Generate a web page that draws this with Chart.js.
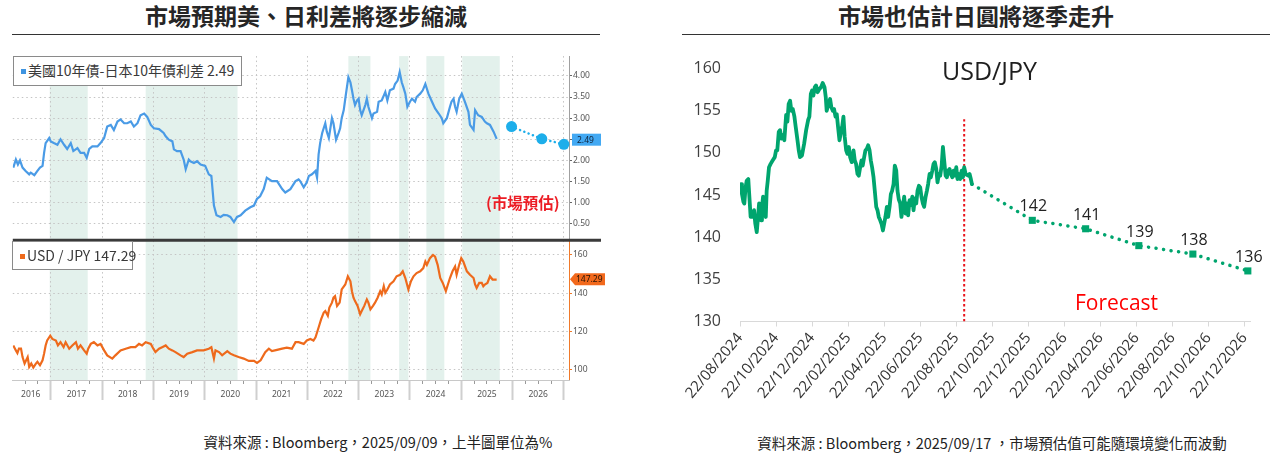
<!DOCTYPE html>
<html><head><meta charset="utf-8">
<script src="https://cdn.jsdelivr.net/npm/chart.js@4.4.1/dist/chart.umd.min.js"></script>
<style>
html,body{margin:0;padding:0;background:#fff;}
body{width:1276px;height:454px;position:relative;overflow:hidden;font-family:"Noto Sans CJK TC","Noto Sans",sans-serif;color:#222;}
.t{position:absolute;white-space:nowrap;}
.title{font-size:23px;font-weight:700;line-height:30px;text-align:center;color:#262626;}
.rule{position:absolute;height:0;border-top:1.5px solid #333;}
.foot{font-size:14.5px;line-height:20px;text-align:center;color:#222;}
.legend{position:absolute;background:#fff;border:1px solid #8a8a8a;box-sizing:border-box;font-size:14px;color:#3a3a3a;line-height:26px;padding-left:7px;white-space:nowrap;}
.legend i{display:inline-block;width:5px;height:5px;margin-right:2px;vertical-align:middle;position:relative;top:-1px;}
.box{position:absolute;}
</style>
</head><body>

<div class="t title" style="left:12px;width:588px;top:0px;">市場預期美、日利差將逐步縮減</div>
<div class="rule" style="left:12px;width:588px;top:34px;"></div>
<div class="t title" style="left:682px;width:588px;top:0px;">市場也估計日圓將逐季走升</div>
<div class="rule" style="left:682px;width:588px;top:34px;"></div>

<div class="box" style="left:12px;top:50px;width:593px;height:355px;"><canvas id="cL"></canvas></div>
<div class="box" style="left:682px;top:48px;width:588px;height:362px;"><canvas id="cR"></canvas></div>

<div class="legend" style="left:13px;top:56px;width:229px;height:30px;"><i style="background:#3f94e0"></i>美國10年債-日本10年債利差 2.49</div>
<div class="legend" style="left:12px;top:241px;width:121px;height:29px;"><i style="background:#ee6a1c"></i>USD / JPY 147.29</div>
<div class="t" style="left:486px;top:191px;font-size:15.5px;font-weight:700;line-height:22px;color:#ec1c24;">(市場預估)</div>

<div class="t" style="left:942px;top:58px;font-family:'Open Sans',sans-serif;font-size:25px;line-height:25px;color:#1e1e1e;font-weight:500;">USD/JPY</div>
<div class="t" style="left:1075px;top:292px;font-family:'Open Sans',sans-serif;font-size:21px;line-height:21px;color:#f00;">Forecast</div>

<div class="t foot" style="left:178px;width:400px;top:432px;">資料來源 : Bloomberg，2025/09/09，上半圖單位為%</div>
<div class="t foot" style="left:742px;width:500px;top:433px;">資料來源 : Bloomberg，2025/09/17 ，市場預估值可能隨環境變化而波動</div>

<script>
// ================= LEFT CHART DATA =================
const yearLabels   = ['2016','2017','2018','2019','2020','2021','2022','2023','2024','2025','2026'];
const yearLabelPos = [2016.61,2017.5,2018.5,2019.5,2020.5,2021.5,2022.5,2023.5,2024.5,2025.5,2026.5];
const yearBounds   = [2017,2018,2019,2020,2021,2022,2023,2024,2025,2026,2027];
const shadedStart  = [2016.98,2018.85,2022.80,2023.79,2024.32,2025.02];
const shadedEnd    = [2017.72,2020.64,2023.23,2023.97,2024.67,2025.75];
const spreadTicks  = [0.5,1.0,1.5,2.0,2.5,3.0,3.5,4.0];
const fxTicks      = [100,110,120,130,140,150,160];

// US 10Y minus JGB 10Y spread (%)
const spreadYears = [
 2016.27,2016.32,2016.36,2016.40,2016.45,2016.51,2016.58,2016.61,2016.68,2016.74,2016.79,2016.84,2016.87,2016.90,2016.97,
 2017.00,2017.06,2017.13,2017.19,2017.26,2017.32,2017.39,2017.44,2017.52,2017.58,2017.65,2017.70,2017.75,2017.81,2017.91,2017.97,
 2018.04,2018.10,2018.17,2018.23,2018.30,2018.36,2018.43,2018.49,2018.56,2018.62,2018.69,2018.75,2018.82,2018.88,2018.95,
 2019.01,2019.11,2019.20,2019.24,2019.30,2019.37,2019.40,2019.46,2019.53,2019.59,2019.63,2019.69,2019.72,2019.79,2019.85,2019.92,
 2020.01,2020.08,2020.13,2020.18,2020.23,2020.31,2020.37,2020.44,2020.50,2020.57,2020.63,2020.70,2020.79,2020.89,2020.96,
 2021.02,2021.08,2021.15,2021.21,2021.31,2021.41,2021.51,2021.57,2021.67,2021.77,2021.83,
 2021.86,2021.93,2021.99,2022.03,2022.09,2022.16,2022.19,2022.22,2022.25,2022.29,2022.35,2022.38,2022.42,2022.48,2022.51,2022.56,2022.61,2022.64,2022.67,2022.71,2022.74,2022.80,2022.84,2022.87,2022.90,2022.93,2022.97,
 2023.00,2023.03,2023.06,2023.13,2023.16,2023.19,2023.26,2023.29,2023.36,2023.39,2023.45,2023.52,2023.56,2023.61,2023.68,2023.71,2023.76,2023.80,2023.84,2023.87,2023.91,2023.95,
 2024.00,2024.04,2024.10,2024.13,2024.20,2024.25,2024.30,2024.36,2024.43,2024.49,2024.56,2024.62,2024.65,2024.72,2024.78,2024.81,2024.85,2024.88,2024.91,2024.96,
 2025.01,2025.07,2025.14,2025.17,2025.24,2025.27,2025.33,2025.40,2025.46,2025.50,2025.56,2025.63,2025.69];
const spreadValues = [
 1.83,2.02,1.90,2.00,1.83,1.75,1.67,1.71,1.65,1.75,1.83,1.87,2.18,2.41,2.53,
 2.45,2.41,2.37,2.50,2.37,2.27,2.41,2.22,2.29,2.18,2.18,2.06,2.27,2.33,2.33,2.41,
 2.53,2.80,2.84,2.72,2.92,2.97,2.88,2.88,2.92,2.80,2.88,3.07,3.11,3.03,2.84,
 2.76,2.74,2.65,2.57,2.49,2.45,2.26,2.22,2.22,2.02,1.79,2.02,1.98,1.94,1.98,1.90,
 1.87,1.67,1.63,0.93,0.70,0.66,0.71,0.70,0.66,0.54,0.66,0.70,0.81,0.89,0.93,
 1.09,1.15,1.32,1.59,1.51,1.51,1.32,1.24,1.32,1.51,1.55,
 1.51,1.36,1.48,1.63,1.67,1.75,1.59,2.14,2.41,2.65,2.88,2.68,2.53,3.00,2.88,2.49,2.65,2.76,3.00,3.19,3.46,3.97,3.85,3.66,3.46,3.31,3.42,
 3.46,3.19,3.07,3.31,3.46,3.27,3.00,3.11,3.15,3.39,3.42,3.62,3.42,3.66,3.70,3.81,3.89,4.09,3.85,3.74,3.58,3.27,
 3.39,3.46,3.39,3.50,3.58,3.66,3.81,3.58,3.39,3.23,3.11,3.00,2.88,3.00,3.27,3.39,3.46,3.27,3.15,3.46,
 3.58,3.39,3.15,2.84,2.72,3.19,3.07,3.03,2.92,2.88,2.84,2.68,2.51];
const spreadForecastYears  = [2025.98,2026.57,2027.0];
const spreadForecastValues = [2.80,2.51,2.38];
const spreadLatest = '2.49';

// USD/JPY (long history)
const fxYears = [
 2016.27,2016.32,2016.35,2016.38,2016.42,2016.45,2016.49,2016.55,2016.58,2016.62,2016.66,2016.71,2016.74,2016.79,2016.84,2016.87,2016.90,2016.93,2016.99,
 2017.03,2017.10,2017.14,2017.19,2017.25,2017.29,2017.36,2017.42,2017.49,2017.53,2017.58,2017.65,2017.70,2017.73,2017.78,2017.84,2017.91,2017.97,
 2018.04,2018.10,2018.20,2018.26,2018.36,2018.46,2018.56,2018.65,2018.72,2018.78,2018.85,2018.95,
 2019.00,2019.04,2019.11,2019.17,2019.24,2019.30,2019.37,2019.43,2019.53,2019.59,2019.66,2019.76,2019.85,2019.98,
 2020.08,2020.13,2020.18,2020.21,2020.28,2020.34,2020.44,2020.50,2020.57,2020.66,2020.76,2020.86,2020.96,
 2021.02,2021.09,2021.18,2021.25,2021.31,2021.41,2021.51,2021.60,2021.70,2021.77,2021.83,2021.93,2021.99,
 2022.06,2022.12,2022.16,2022.22,2022.27,2022.32,2022.35,2022.40,2022.43,2022.48,2022.51,2022.54,2022.58,2022.63,2022.67,2022.74,2022.79,2022.84,2022.87,2022.90,2022.93,2022.98,
 2023.03,2023.06,2023.11,2023.16,2023.19,2023.23,2023.28,2023.32,2023.37,2023.42,2023.45,2023.49,2023.52,2023.56,2023.61,2023.68,2023.74,2023.81,2023.86,2023.91,2023.97,
 2024.02,2024.07,2024.13,2024.20,2024.26,2024.30,2024.33,2024.39,2024.45,2024.49,2024.54,2024.59,2024.64,2024.70,2024.74,2024.78,2024.83,2024.88,2024.91,2024.96,
 2025.00,2025.04,2025.11,2025.17,2025.24,2025.27,2025.30,2025.35,2025.40,2025.43,2025.46,2025.51,2025.56,2025.61,2025.69];
const fxValues = [
 112.6,110.0,108.6,110.9,110.9,106.5,103.1,106.5,101.4,103.1,101.0,103.1,104.0,102.2,104.8,108.3,112.6,115.2,117.7,
 116.0,115.2,112.6,114.3,111.7,114.3,110.9,112.6,114.3,110.9,112.6,110.0,108.3,110.9,113.4,114.3,112.6,113.4,
 110.0,107.4,105.7,107.4,110.0,110.9,111.7,111.7,113.4,112.6,114.3,113.4,
 110.9,109.1,110.9,111.7,112.6,110.9,110.0,109.1,107.4,106.5,108.3,109.1,110.0,110.0,
 110.9,111.7,105.7,110.0,109.1,107.4,109.6,108.3,107.4,106.5,105.7,104.5,104.5,
 103.4,104.8,109.1,110.9,109.6,110.3,110.9,111.4,110.9,114.3,114.3,113.4,115.2,
 116.0,115.2,116.9,122.0,126.4,129.8,130.6,128.1,132.4,135.0,137.6,138.4,133.3,135.0,141.9,144.5,148.8,146.2,141.0,137.6,135.8,133.3,
 128.9,130.6,133.3,136.7,135.0,131.5,133.3,135.0,137.6,141.0,139.3,143.6,140.2,141.9,144.5,146.2,148.8,149.6,151.4,147.9,141.9,
 146.2,148.8,150.5,151.4,153.1,156.5,154.8,158.3,160.0,159.1,154.8,147.9,145.3,141.0,144.5,147.9,151.4,153.9,149.6,154.8,
 158.3,156.5,151.4,149.6,147.9,144.5,142.7,145.3,145.3,143.6,144.5,145.3,148.8,147.1,147.1];
const fxLatest = '147.29';

// ================= RIGHT CHART DATA =================
// x = months after 22/08/2024
const monthTickPos    = [0,2,4,6,8,10,12,14,16,18,20,22,24,26,28];
const monthTickLabels = ['22/08/2024','22/10/2024','22/12/2024','22/02/2025','22/04/2025','22/06/2025','22/08/2025',
 '22/10/2025','22/12/2025','22/02/2026','22/04/2026','22/06/2026','22/08/2026','22/10/2026','22/12/2026'];
const rightYTicks = [130,135,140,145,150,155,160];
const spotMonths = [
 0.06,0.11,0.19,0.24,0.31,0.37,0.46,0.52,0.59,0.70,
 0.78,0.85,0.93,1.00,1.06,1.11,1.17,1.22,1.28,1.35,
 1.43,1.48,1.54,1.61,1.70,1.81,1.93,2.00,2.07,2.15,
 2.22,2.30,2.37,2.46,2.56,2.63,2.70,2.78,2.85,2.93,
 3.02,3.09,3.19,3.26,3.33,3.44,3.56,3.67,3.78,3.85,
 3.93,4.00,4.07,4.15,4.22,4.31,4.41,4.50,4.59,4.69,
 4.76,4.81,4.91,5.00,5.07,5.15,5.22,5.30,5.37,5.44,
 5.52,5.59,5.67,5.74,5.81,5.89,5.96,6.04,6.11,6.20,
 6.30,6.37,6.44,6.52,6.59,6.67,6.74,6.81,6.89,6.96,
 7.04,7.11,7.19,7.26,7.33,7.41,7.48,7.56,7.63,7.70,
 7.78,7.85,7.93,8.00,8.07,8.15,8.22,8.30,8.37,8.44,
 8.52,8.59,8.67,8.74,8.81,8.89,8.96,9.04,9.11,9.19,
 9.26,9.33,9.41,9.48,9.56,9.63,9.70,9.78,9.85,9.93,
 10.00,10.07,10.15,10.22,10.30,10.37,10.44,10.52,10.59,10.67,
 10.74,10.81,10.89,10.96,11.04,11.11,11.19,11.26,11.33,11.41,
 11.48,11.56,11.63,11.70,11.78,11.85,11.93,12.00,12.07,12.15,
 12.22,12.30,12.37,12.44,12.52,12.59,12.67,12.74,12.81,12.87];
const spotValues = [
 146.3,145.1,144.2,144.0,145.9,146.7,146.9,144.8,142.4,142.4,
 143.2,141.6,140.6,142.4,144.0,143.2,142.0,143.6,144.8,143.6,
 142.4,145.5,146.7,148.3,148.7,149.1,149.5,150.3,150.3,152.5,
 152.7,151.7,152.1,151.5,154.5,153.7,155.8,156.2,155.0,155.2,
 154.3,153.1,151.5,150.3,149.5,149.7,151.1,152.7,153.9,154.3,
 157.0,157.4,156.8,157.8,158.0,157.2,157.6,157.8,158.3,157.8,
 156.6,155.0,155.8,156.4,155.4,155.0,155.2,154.3,154.6,153.1,
 151.5,152.3,153.1,154.3,151.9,150.3,149.9,150.7,149.5,148.9,
 150.3,149.1,148.7,147.5,147.3,148.3,149.1,148.5,149.5,150.3,
 150.5,150.9,150.3,149.1,148.3,147.1,145.5,143.6,143.2,142.4,
 142.0,141.6,140.8,141.6,142.4,143.6,142.4,143.6,145.1,145.5,
 146.3,148.5,147.9,145.5,144.5,144.0,142.4,143.6,144.8,142.8,
 144.0,142.6,144.4,143.8,144.8,143.2,144.6,144.0,145.5,146.1,
 145.9,144.8,144.0,143.6,144.8,145.5,146.3,147.5,147.1,147.9,
 148.7,148.9,148.1,146.5,147.5,147.3,148.5,150.7,149.1,147.3,
 147.1,147.9,148.1,147.5,147.1,147.9,147.3,148.3,146.9,147.5,
 146.9,147.9,147.1,148.3,147.5,147.4,147.3,147.5,146.9,146.3];
const forecastMonths = [12.87,16.22,19.18,22.13,25.13,28.18];
const forecastValues = [146.3,142,141,139,138,136];
const forecastLabels = ['','142','141','139','138','136'];
const forecastStartMonth = 12.44;
const forecastLineRange = [130,154];

// ================= helpers =================
const pairs = (xs, ys) => xs.slice(0, Math.min(xs.length, ys.length)).map((x,i)=>({x, y:ys[i]}));
const setTicks = arr => s => { s.ticks = arr.map(v=>({value:v})); };
const X_MIN = 2016.26, X_MAX = 2027.1;
const quarterTicks = [];
for (let y = 2016; y <= 2026; y++) for (const q of [0.25,0.5,0.75]) { const v = y + q; if (v > X_MIN && v < X_MAX) quarterTicks.push(v); }

const leftDeco = {
  id: 'leftDeco',
  beforeDraw(chart) {
    const {ctx, chartArea: a, scales: {x}} = chart;
    ctx.save();
    ctx.fillStyle = '#e3f1ec';
    shadedStart.forEach((s, i) => {
      const x1 = x.getPixelForValue(s), x2 = x.getPixelForValue(shadedEnd[i]);
      ctx.fillRect(x1, a.top, x2 - x1, a.bottom - a.top);
    });
    ctx.restore();
  },
  afterDraw(chart) {
    const {ctx, chartArea: a, scales: {yTop, yBot}} = chart;
    ctx.save();
    const ys = yBot.top - 0.5;
    ctx.strokeStyle = '#3a3a3a'; ctx.lineWidth = 3;
    ctx.beginPath(); ctx.moveTo(a.left, ys); ctx.lineTo(chart.width - 4, ys); ctx.stroke();
    ctx.font = '8.5px "Noto Sans", sans-serif';
    ctx.textBaseline = 'middle';
    let py = yTop.getPixelForValue(parseFloat(spreadLatest));
    ctx.fillStyle = '#43a9f3';
    ctx.fillRect(a.right + 3, py - 6, 29, 12);
    ctx.fillStyle = '#10233a'; ctx.textAlign = 'left';
    ctx.fillText(spreadLatest, a.right + 8, py + 0.5);
    py = yBot.getPixelForValue(parseFloat(fxLatest));
    ctx.fillStyle = '#f2691c';
    ctx.beginPath();
    ctx.moveTo(a.right + 1, py); ctx.lineTo(a.right + 6, py - 6); ctx.lineTo(a.right + 36, py - 6);
    ctx.lineTo(a.right + 36, py + 6); ctx.lineTo(a.right + 6, py + 6); ctx.closePath(); ctx.fill();
    ctx.fillStyle = '#2a1406';
    ctx.fillText(fxLatest, a.right + 7, py + 0.5);
    ctx.restore();
  }
};

const tickFontL = {size: 8.5, family: '"Noto Sans", sans-serif'};

new Chart(document.getElementById('cL'), {
  type: 'line',
  data: { datasets: [
    { data: pairs(spreadYears, spreadValues), xAxisID: 'x', yAxisID: 'yTop', borderColor: '#4a9be6', borderWidth: 2.2, pointRadius: 0, tension: 0 },
    { data: pairs(spreadForecastYears, spreadForecastValues), xAxisID: 'x', yAxisID: 'yTop', borderColor: '#1daeea', backgroundColor: '#1daeea',
      borderWidth: 2.5, borderDash: [0.1, 4.5], borderCapStyle: 'round', pointRadius: 5.5, pointBorderWidth: 0, clip: false },
    { data: pairs(fxYears, fxValues), xAxisID: 'x', yAxisID: 'yBot', borderColor: '#ee6a1c', borderWidth: 2.2, pointRadius: 0, tension: 0 }
  ]},
  options: {
    responsive: true, maintainAspectRatio: false, animation: false, events: [],
    layout: { autoPadding: false, padding: { top: 2, left: 0, right: 0, bottom: 0 } },
    plugins: { legend: { display: false }, tooltip: { enabled: false } },
    scales: {
      x: { type: 'linear', axis: 'x', position: 'bottom', min: X_MIN, max: X_MAX, afterBuildTicks: setTicks(yearBounds),
           ticks: { display: false },
           grid: { color: '#c4c4c4', lineWidth: 1, tickLength: 20, tickWidth: 2, tickColor: '#cfcfcf', tickBorderDash: [] },
           border: { display: true, color: '#c8c8c8', dash: [1.5, 3] },
           afterFit: s => { s.height = 0; } },
      xMinor: { type: 'linear', axis: 'x', position: 'bottom', min: X_MIN, max: X_MAX, afterBuildTicks: setTicks(quarterTicks),
           ticks: { display: false },
           grid: { drawOnChartArea: false, tickLength: 4, tickColor: '#9a9a9a', tickWidth: 1 },
           border: { display: false }, afterFit: s => { s.height = 0; } },
      xLab: { type: 'linear', axis: 'x', position: 'bottom', min: X_MIN, max: X_MAX, afterBuildTicks: setTicks(yearLabelPos),
           ticks: { autoSkip: false, maxRotation: 0, minRotation: 0, padding: 9, color: '#555', font: tickFontL, callback: (v, i) => yearLabels[i] },
           grid: { display: false, drawTicks: false }, border: { display: false },
           afterFit: s => { s.height = 25; } },
      yTop: { type: 'linear', axis: 'y', position: 'right', stack: 'L', stackWeight: 187, min: 0.096, max: 4.47,
           afterBuildTicks: setTicks(spreadTicks),
           ticks: { color: '#555', font: tickFontL, padding: 1, callback: v => v.toFixed(2) },
           grid: { color: '#c4c4c4', tickLength: 3, tickColor: '#666', tickBorderDash: [] },
           border: { color: '#a0a0a0', dash: [1.5, 3] },
           afterFit: s => { s.width = 36; } },
      yBot: { type: 'linear', axis: 'y', position: 'right', stack: 'L', stackWeight: 141, min: 94.5, max: 167.4,
           afterBuildTicks: setTicks(fxTicks),
           ticks: { color: '#555', font: tickFontL, padding: 1, callback: v => String(v) },
           grid: { color: '#c4c4c4', tickLength: 3, tickColor: '#f07a2a', tickBorderDash: [] },
           border: { color: '#f07a2a', dash: [1.5, 3] },
           afterFit: s => { s.width = 36; } }
    }
  },
  plugins: [leftDeco]
});

// ================= RIGHT CHART =================
const pointLabels = {
  id: 'pointLabels',
  afterDatasetsDraw(chart) {
    const meta = chart.getDatasetMeta(1);
    const ctx = chart.ctx;
    ctx.save();
    ctx.font = '16px "Open Sans", sans-serif';
    ctx.fillStyle = '#222'; ctx.textAlign = 'center'; ctx.textBaseline = 'alphabetic';
    meta.data.forEach((p, i) => { if (forecastLabels[i]) ctx.fillText(forecastLabels[i], p.x + 1, p.y - 9); });
    ctx.restore();
  }
};

const green = '#00a56e';
new Chart(document.getElementById('cR'), {
  type: 'line',
  data: { datasets: [
    { data: pairs(spotMonths, spotValues), borderColor: green, borderWidth: 3.8, pointRadius: 0, tension: 0, borderJoinStyle: 'round', borderCapStyle: 'round' },
    { data: pairs(forecastMonths, forecastValues), borderColor: green, backgroundColor: green, borderWidth: 3.5,
      borderDash: [0.1, 7.5], borderCapStyle: 'round', pointStyle: 'rect',
      pointRadius: forecastLabels.map(l => l ? 5 : 0), pointBorderWidth: 0, clip: false },
    { data: forecastLineRange.map(v => ({x: forecastStartMonth, y: v})), borderColor: '#e8141b', borderWidth: 2, borderDash: [2.5, 2.5], pointRadius: 0 }
  ]},
  options: {
    responsive: true, maintainAspectRatio: false, animation: false, events: [],
    layout: { autoPadding: false, padding: { top: 20, left: 0, right: 20, bottom: 0 } },
    plugins: { legend: { display: false }, tooltip: { enabled: false } },
    scales: {
      x: { type: 'linear', min: 0, max: 28.3, afterBuildTicks: setTicks(monthTickPos),
           ticks: { autoSkip: false, minRotation: 50, maxRotation: 50, padding: 3, color: '#333',
                    font: { size: 15, family: '"Open Sans", sans-serif' }, callback: (v, i) => monthTickLabels[i] },
           grid: { drawOnChartArea: false, tickLength: 5, tickColor: '#d9d9d9' },
           border: { color: '#d9d9d9' },
           afterFit: s => { s.height = 88.5; } },
      y: { min: 130, max: 160, afterBuildTicks: setTicks(rightYTicks),
           ticks: { color: '#404040', padding: 11, font: { size: 16, family: '"Open Sans", sans-serif' } },
           grid: { display: false }, border: { display: false },
           afterFit: s => { s.width = 58; } }
    }
  },
  plugins: [pointLabels]
});
</script>
</body></html>
